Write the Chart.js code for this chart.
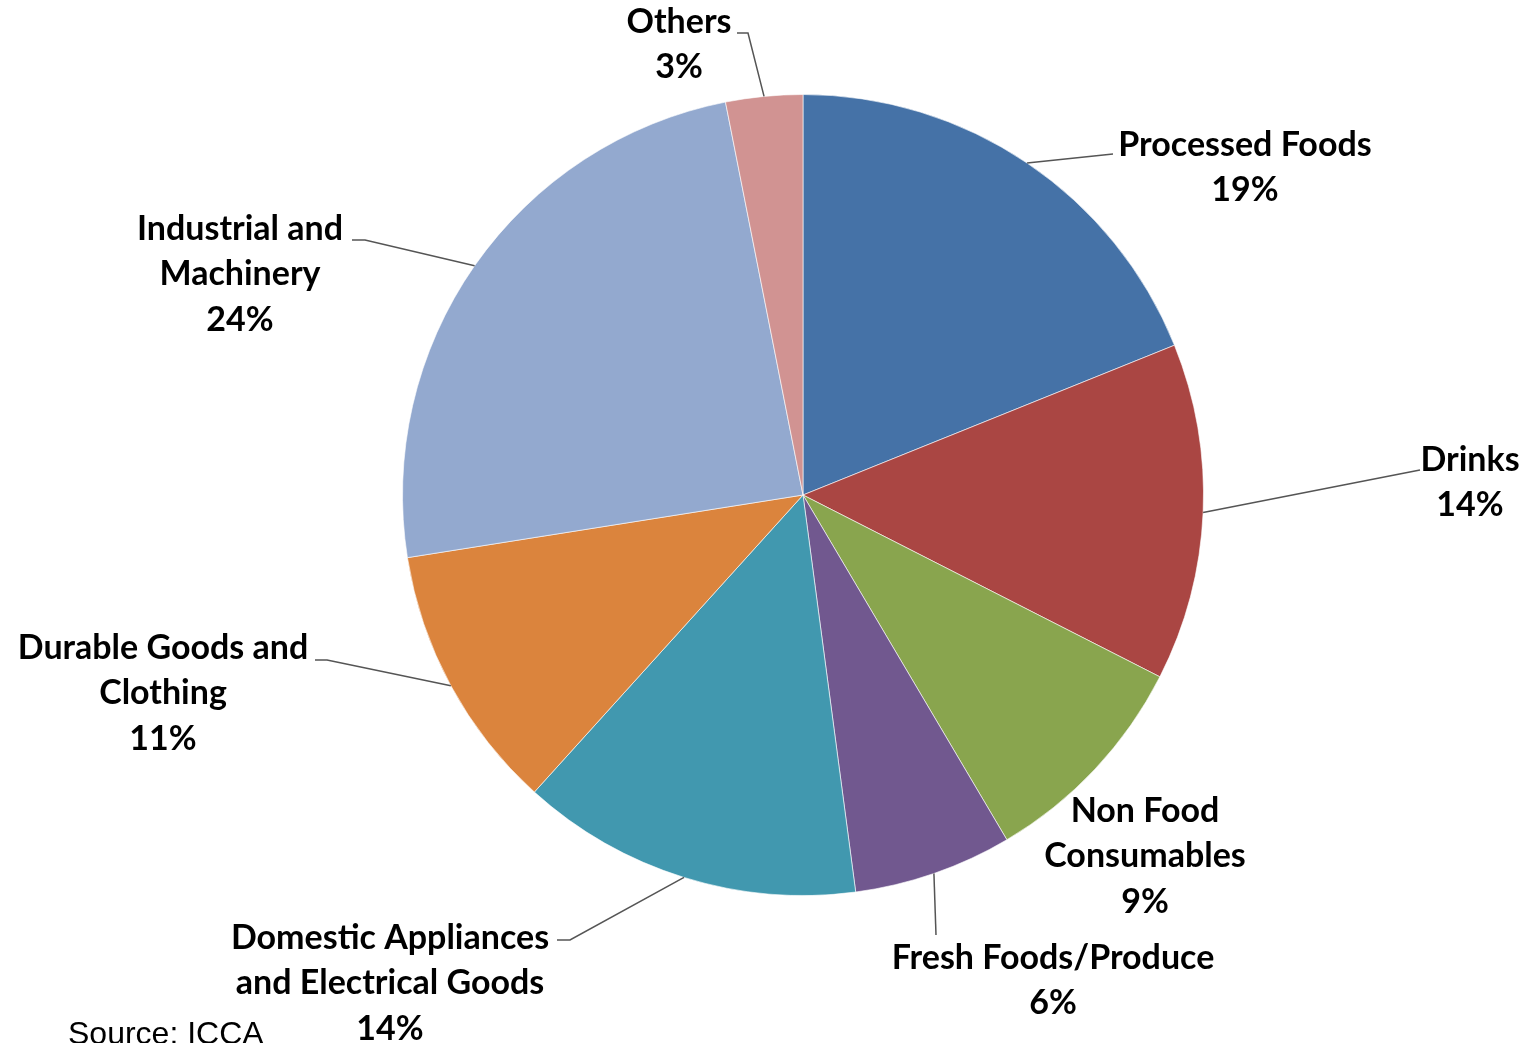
<!DOCTYPE html>
<html lang="en">
<head>
    <meta charset="UTF-8">
    <title>Chemical Sales by End Market</title>
    <script src="https://cdn.jsdelivr.net/npm/chart.js"></script>
    <style>
        body {
            margin: 0;
            background: #ffffff;
            overflow: hidden;
        }
        #wrap {
            position: relative;
            width: 1525px;
            height: 1043px;
        }
        #source {
            position: absolute;
            left: 68px;
            top: 1015px;
            font-family: "Liberation Sans", Arial, sans-serif;
            font-size: 32px;
            color: #000;
            white-space: nowrap;
        }
    </style>
</head>
<body>
<div id="wrap">
    <canvas id="pieChart" width="1525" height="1043"></canvas>
    <div id="source">Source: ICCA</div>
</div>

<script>
    // data (share of total, %)
    const categories = [
        ['Processed Foods'],
        ['Drinks'],
        ['Non Food', 'Consumables'],
        ['Fresh Foods/Produce'],
        ['Domestic Appliances', 'and Electrical Goods'],
        ['Durable Goods and', 'Clothing'],
        ['Industrial and', 'Machinery'],
        ['Others']
    ];
    const shares = [18.9, 13.6, 9.0, 6.4, 13.8, 10.8, 24.4, 3.1];
    const colors = ['#4572A7', '#AA4643', '#89A54E', '#71588F', '#4198AF', '#DB843D', '#93A9CF', '#D19392'];

    // label layout, offsets from pie centre: text (first line centre) and leader bend points
    const labelLayout = [
        { text: [442, -350], leader: [[310, -341]] },
        { text: [667, -35],  leader: [[617, -25]] },
        { text: [342, 316],  leader: [] },
        { text: [250, 463],  leader: [[133, 440]] },
        { text: [-413, 443], leader: [[-233, 445], [-246, 445]] },
        { text: [-640, 153], leader: [[-476, 165], [-488, 165]] },
        { text: [-563, -266], leader: [[-438, -255], [-451, -255]] },
        { text: [-124, -473], leader: [[-55, -462], [-66, -462]] }
    ];

    const lineGap = 45.5;

    const labelPlugin = {
        id: 'outsideLabels',
        afterDraw(chart) {
            const ctx = chart.ctx;
            const arcs = chart.getDatasetMeta(0).data;
            ctx.save();
            arcs.forEach((arc, i) => {
                const p = arc.getProps(['x', 'y', 'startAngle', 'endAngle', 'outerRadius'], true);
                const mid = (p.startAngle + p.endAngle) / 2;
                const lay = labelLayout[i];

                // leader line
                if (lay.leader.length) {
                    ctx.beginPath();
                    ctx.moveTo(p.x + Math.cos(mid) * p.outerRadius, p.y + Math.sin(mid) * p.outerRadius);
                    lay.leader.forEach(pt => ctx.lineTo(p.x + pt[0], p.y + pt[1]));
                    ctx.strokeStyle = '#555555';
                    ctx.lineWidth = 1.5;
                    ctx.stroke();
                }

                // text
                const lines = categories[i].concat([Math.round(shares[i]) + '%']);
                ctx.fillStyle = '#000000';
                ctx.font = 'bold 34px Lato, "Open Sans", sans-serif';
                ctx.textAlign = 'center';
                ctx.textBaseline = 'middle';
                lines.forEach((t, k) => {
                    ctx.fillText(t, p.x + lay.text[0], p.y + lay.text[1] + k * lineGap);
                });
            });
            ctx.restore();
        }
    };

    const ctx = document.getElementById('pieChart').getContext('2d');
    const pieChart = new Chart(ctx, {
        type: 'pie',
        data: {
            labels: categories.map(c => c.join(' ')),
            datasets: [{
                data: shares,
                backgroundColor: colors,
                borderColor: 'rgba(255,255,255,0.6)',
                borderWidth: 1
            }]
        },
        options: {
            responsive: false,
            animation: false,
            layout: {
                padding: { top: 94, bottom: 147, left: 402, right: 321 }
            },
            plugins: {
                legend: { display: false },
                tooltip: { enabled: false }
            }
        },
        plugins: [labelPlugin]
    });
</script>
</body>
</html>
